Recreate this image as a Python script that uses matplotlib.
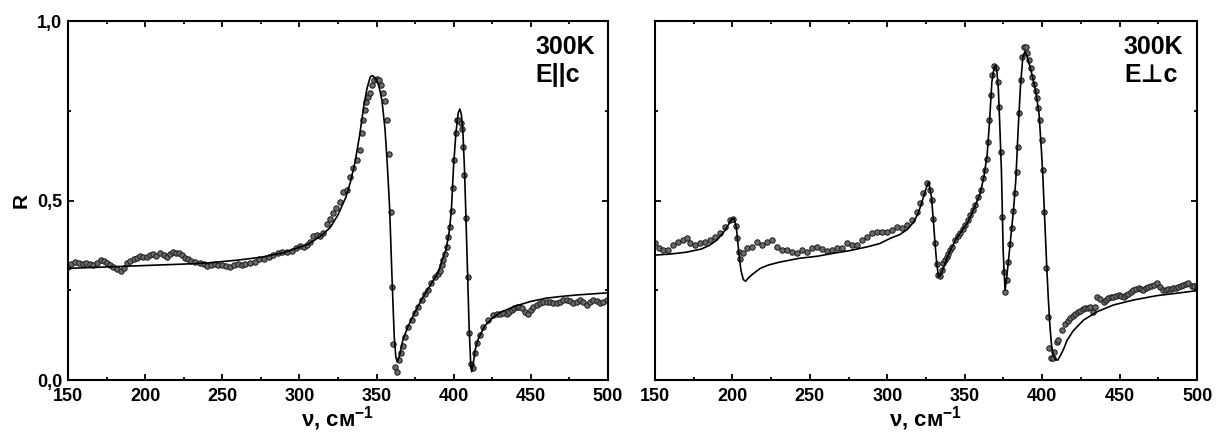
import numpy as np
import matplotlib
matplotlib.use('Agg')
import matplotlib.pyplot as plt
from matplotlib.ticker import MultipleLocator, FuncFormatter

plt.rcParams['font.family'] = ['Liberation Sans', 'DejaVu Sans']
plt.rcParams['font.weight'] = 'bold'
plt.rcParams['mathtext.fontset'] = 'custom'
plt.rcParams['mathtext.rm'] = 'Liberation Sans:bold'
plt.rcParams['mathtext.bf'] = 'Liberation Sans:bold'
plt.rcParams['mathtext.default'] = 'rm'

# E || c : measured reflectance (dots)
nu_par = [150, 152, 154.5, 157, 159.5, 162, 164, 166.5,
          169, 171.5, 173.5, 175.5, 177.5, 179.5, 182, 184.5,
          186.5, 188.5, 190.5, 192.5, 194.5, 196.5, 198.5, 201,
          203, 205, 207, 209.5, 212, 214, 216, 218,
          220, 222, 224, 226, 228, 230, 232.5, 235.5,
          238, 240, 242.5, 245, 247.5, 250, 252.5, 255,
          257.5, 260, 262.5, 265, 268, 271, 274, 277,
          280, 283, 286, 289, 292, 295, 298, 300.5,
          303, 305, 307, 309, 311.5, 313.5, 315.5, 317.7,
          320, 322, 324, 326.3, 328.5, 330.6, 332.8, 334.9,
          337.1, 339.2, 340.3, 341.4, 342.4, 343.5, 344.6, 345.7,
          346.8, 348.3, 350, 351.5, 352.8, 354.4, 355.6, 356.9,
          358, 359.1, 360, 360.8, 362.2, 363, 364.3, 365.6,
          366.9, 368.4, 370.6, 372.7, 374.9, 377, 379.2, 381.3,
          383.5, 385.6, 387.8, 390, 391.3, 392.4, 393.4, 394.5,
          395.6, 396.6, 397.7, 398.7, 399.4, 400.2, 401.5, 401.9,
          403, 404.5, 405.2, 405.8, 406.7, 408, 409.3, 410.2,
          411.2, 412.3, 413.8, 415.3, 417, 419.2, 422.4, 425.7,
          427.8, 430, 432, 434.3, 436, 437.6, 439.2, 440.8,
          442.4, 444, 446.2, 448.4, 450, 451.6, 453.8, 456,
          458.2, 460.3, 462.4, 464.6, 466.8, 468.9, 471, 473.3,
          475.4, 477.6, 479.8, 481.9, 484, 486.2, 488.4, 490.5,
          492.7, 494.9, 497, 499.2]
R_par = [.316, .322, .330, .326, .324, .325, .322, .320,
         .326, .334, .332, .327, .320, .316, .310, .305,
         .312, .325, .332, .336, .340, .345, .344, .343,
         .348, .350, .346, .353, .349, .343, .352, .356,
         .355, .353, .347, .341, .336, .332, .330, .327,
         .322, .318, .320, .322, .320, .321, .319, .316,
         .321, .323, .320, .324, .325, .330, .336, .338,
         .342, .347, .353, .357, .358, .360, .368, .373,
         .371, .375, .385, .400, .405, .402, .410, .436,
         .448, .464, .478, .497, .525, .530, .566, .590,
         .613, .641, .687, .724, .752, .775, .789, .800,
         .822, .836, .840, .835, .822, .799, .776, .724,
         .631, .469, .260, .100, .037, .023, .056, .075,
         .094, .121, .148, .167, .186, .204, .223, .241,
         .251, .269, .288, .295, .305, .320, .334, .352,
         .371, .399, .427, .472, .534, .613, .687, .724,
         .724, .715, .700, .648, .571, .450, .286, .130,
         .046, .033, .074, .102, .125, .148, .167, .181,
         .183, .185, .186, .184, .190, .195, .200, .204,
         .203, .200, .190, .185, .195, .204, .210, .214,
         .217, .218, .216, .214, .215, .218, .222, .223,
         .219, .214, .218, .223, .218, .210, .216, .223,
         .219, .214, .218, .223]

# E || c : fit curve
nu_par_fit = [150, 175, 200, 225, 240, 260, 275, 290, 300, 305,
              310, 315, 320, 325, 330, 333, 336, 339, 342, 344,
              346, 347.5, 349.5, 351.5, 353.5, 355.5, 357, 358.5, 360, 361.5,
              362.5, 363.5, 365, 367, 370, 375, 380, 385, 390, 393,
              395, 397, 398.5, 400, 401.5, 403, 404, 405, 406, 407,
              408, 409, 410, 411, 411.7, 412.5, 414, 416, 420, 425,
              430, 440, 450, 460, 470, 480, 490, 500]
R_par_fit = [.311, .315, .319, .323, .326, .334, .342, .355, .370, .377,
             .390, .405, .425, .460, .508, .550, .605, .680, .770, .815,
             .845, .848, .840, .820, .780, .700, .600, .480, .290, .120,
             .065, .050, .070, .110, .145, .190, .230, .265, .300, .340,
             .362, .410, .470, .600, .690, .745, .755, .740, .690, .590,
             .450, .300, .150, .050, .023, .040, .085, .115, .150, .172,
             .188, .206, .219, .228, .233, .237, .240, .243]

# E _|_ c : measured reflectance (dots)
nu_perp = [150.3, 152.5, 155.4, 158.6, 161.8, 165, 168.3, 170.4,
           172.6, 175.8, 179.1, 182.3, 185.5, 188.8, 192, 195.2,
           198.5, 200.6, 202.4, 203.2, 204.1, 205, 206.7, 209.3,
           212.5, 215.8, 219, 222.1, 225.4, 228.6, 231.8, 235,
           238.3, 241.5, 244.7, 248, 251.2, 254.4, 257.6, 260.9,
           264.1, 267.3, 270.6, 273.8, 277, 280.2, 283.5, 286.7,
           289.9, 293.2, 296.4, 299.6, 302.8, 306.1, 309.3, 312.5,
           315.8, 319, 321.2, 323.3, 325.5, 327.6, 328.7, 329.8,
           330.9, 331.9, 333, 334.1, 335.2, 336.2, 337.3, 338.4,
           339.4, 340.5, 341.6, 343.8, 345.4, 347, 348.6, 350.2,
           351.8, 353.4, 355, 356.7, 358.8, 360.5, 362, 363.1,
           364.2, 365.2, 365.9, 366.8, 367.8, 369.1, 370.2, 371.3,
           372.2, 373.4, 374.3, 375.2, 376, 377.1, 378.2, 379.3,
           380.3, 381.4, 382.5, 383.6, 384.2, 385.1, 386.2, 387.2,
           388.3, 389.4, 390.5, 391.5, 392.6, 393.7, 394.8, 395.8,
           396.7, 397.5, 398.6, 399.7, 400.3, 401.2, 402.3, 403.6,
           404.4, 405.5, 406.8, 407.9, 409.4, 410.5, 412.7, 414.8,
           416.4, 418, 419.6, 421.3, 422.9, 424.5, 426.1, 427.7,
           429.3, 431, 432.7, 434.2, 435.7, 437.4, 439.6, 441.2,
           442.8, 444.4, 446, 447.6, 449.3, 450.9, 452.5, 454.1,
           455.7, 457.3, 458.9, 460.5, 462.2, 463.8, 465.4, 467,
           468.6, 470.2, 471.9, 474, 476.2, 478.3, 479.9, 481.5,
           483.1, 484.7, 486.3, 488, 489.6, 491.2, 492.8, 494.4,
           496.6, 498.2, 499.8]
R_perp = [.381, .367, .362, .362, .376, .385, .390, .395,
          .381, .376, .381, .385, .390, .399, .409, .427,
          .446, .448, .429, .395, .357, .336, .353, .367,
          .371, .385, .376, .385, .390, .371, .362, .362,
          .357, .353, .362, .357, .367, .371, .364, .360,
          .362, .367, .367, .381, .376, .376, .390, .399,
          .409, .413, .413, .413, .418, .427, .423, .432,
          .446, .469, .492, .520, .548, .529, .501, .448,
          .383, .323, .292, .290, .306, .325, .334, .343,
          .352, .362, .371, .390, .400, .410, .421, .432,
          .446, .460, .473, .487, .511, .529, .562, .585,
          .617, .664, .724, .794, .850, .875, .868, .831,
          .761, .636, .455, .302, .246, .279, .330, .379,
          .424, .471, .520, .580, .650, .745, .836, .901,
          .927, .927, .910, .891, .868, .845, .826, .806,
          .785, .759, .724, .669, .585, .469, .313, .175,
          .088, .060, .060, .079, .107, .111, .139, .156,
          .164, .172, .178, .184, .189, .193, .197, .200,
          .202, .204, .190, .204, .232, .225, .218, .223,
          .228, .230, .232, .235, .237, .235, .232, .237,
          .241, .246, .251, .253, .255, .253, .251, .256,
          .260, .262, .265, .269, .260, .251, .252, .253,
          .254, .255, .257, .260, .262, .265, .267, .269,
          .262, .263, .265]

# E _|_ c : fit curve
nu_perp_fit = [150, 160, 170, 180, 185, 190, 194, 197, 199.5, 201,
               202.5, 204, 205.5, 207, 208.5, 210, 213, 218, 223, 230,
               243, 255, 265, 275, 287, 295, 302, 308, 313, 317,
               320, 323, 325.5, 326.7, 328.5, 329.7, 330.8, 331.9, 333, 334,
               336, 340, 344, 348, 352, 356, 360, 362.5, 364.5, 366,
               367.5, 368.7, 369.7, 370.7, 371.7, 372.7, 373.7, 374.8, 376, 377.2,
               378.5, 380, 381.5, 383, 384.5, 386, 387.5, 388.8, 390, 392,
               394, 396, 398, 399.5, 400.5, 401.8, 403, 404, 405, 406.1,
               407.2, 408.3, 410, 412, 414, 416, 420, 426.7, 435.3, 446,
               459, 474, 489, 500]
R_perp_fit = [.348, .351, .356, .365, .375, .390, .410, .430, .448, .450,
              .425, .360, .305, .280, .275, .283, .295, .311, .320, .328,
              .339, .345, .353, .360, .371, .380, .395, .405, .420, .440,
              .465, .505, .540, .552, .510, .446, .381, .325, .290, .288,
              .310, .355, .390, .415, .440, .478, .520, .570, .630, .720,
              .830, .865, .877, .862, .810, .700, .580, .360, .250, .290,
              .345, .410, .475, .560, .700, .820, .900, .915, .905, .875,
              .840, .800, .740, .640, .560, .430, .310, .223, .150, .093,
              .070, .058, .055, .070, .088, .110, .137, .167, .190, .209,
              .223, .235, .243, .249]

panels = [
    (nu_par, R_par, nu_par_fit, R_par_fit, '300K\nE||c'),
    (nu_perp, R_perp, nu_perp_fit, R_perp_fit, '300K\nE\u22a5c'),
]

fig = plt.figure(figsize=(12.2, 4.34), dpi=100)
ax_l = fig.add_axes([0.0557, 0.1244, 0.4426, 0.827])
ax_r = fig.add_axes([0.5369, 0.1244, 0.4443, 0.827])

comma = FuncFormatter(lambda v, pos: f'{v:.1f}'.replace('.', ','))

for ax, (nu, R, nu_fit, R_fit, label) in zip([ax_l, ax_r], panels):
    ax.plot(nu, R, 'o', ms=3.9, mfc='#6a6a6a', mec='#1a1a1a', mew=0.7,
            zorder=2)
    ax.plot(nu_fit, R_fit, '-', color='black', lw=1.2, zorder=3)

    ax.set_xlim(150, 500)
    ax.set_ylim(0, 1.0)
    ax.xaxis.set_major_locator(MultipleLocator(50))
    ax.xaxis.set_minor_locator(MultipleLocator(25))
    ax.yaxis.set_major_locator(MultipleLocator(0.5))
    ax.yaxis.set_minor_locator(MultipleLocator(0.25))
    ax.yaxis.set_major_formatter(comma)
    ax.tick_params(which='both', direction='in', top=True, right=True,
                   width=1.3, labelsize=13)
    ax.tick_params(axis='x', pad=6)
    ax.tick_params(axis='y', pad=4)
    ax.tick_params(which='major', length=4.5)
    ax.tick_params(which='minor', length=2.5)
    for s in ax.spines.values():
        s.set_linewidth(1.5)
    for t in ax.get_xticklabels() + ax.get_yticklabels():
        t.set_fontweight('bold')

    ax.set_xlabel('\u03bd, \u0441\u043c$^{-1}$', fontsize=16,
                  fontweight='bold', labelpad=-1)
    ax.text(0.865, 0.962, label, transform=ax.transAxes, ha='left', va='top',
            fontsize=18, fontweight='bold', linespacing=1.2)

ax_l.set_ylabel('R', fontsize=15, fontweight='bold', labelpad=5)
ax_r.tick_params(labelleft=False)

fig.savefig('out.png', dpi=100)
